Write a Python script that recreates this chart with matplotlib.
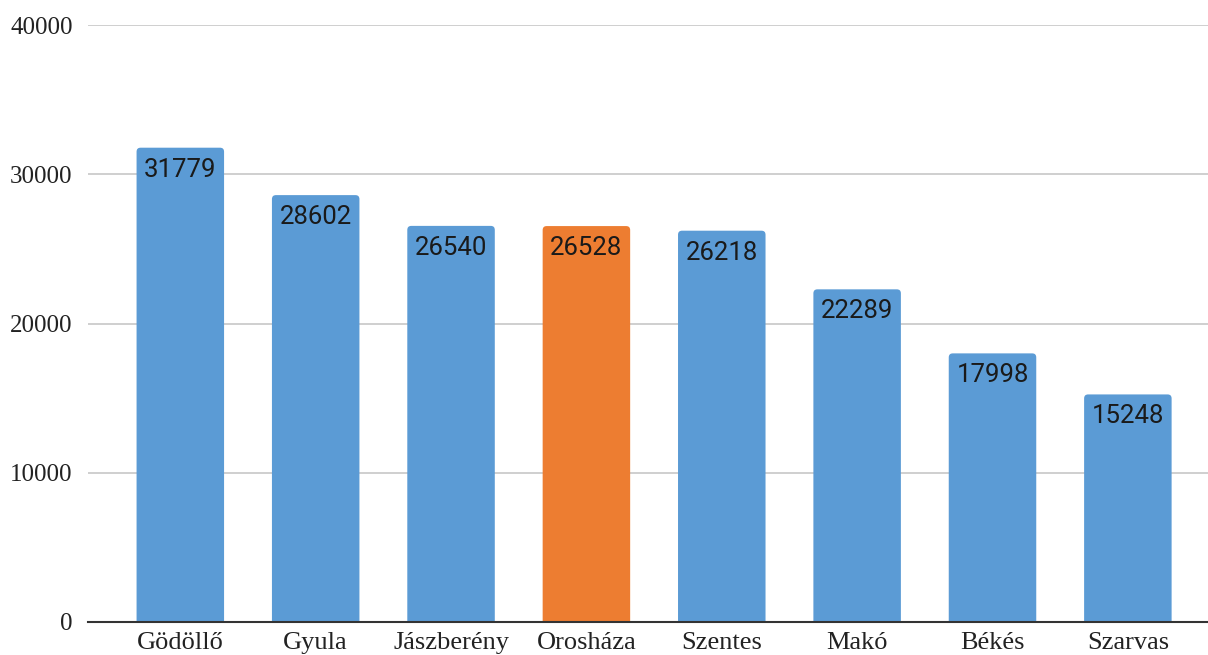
import matplotlib.pyplot as plt
from matplotlib.patches import FancyBboxPatch

# Data
cities = ['Gödöllő', 'Gyula', 'Jászberény', 'Orosháza', 'Szentes', 'Makó', 'Békés', 'Szarvas']
values = [31779, 28602, 26540, 26528, 26218, 22289, 17998, 15248]
highlight = 'Orosháza'
yticks = [0, 10000, 20000, 30000, 40000]

blue = '#5B9BD5'
orange = '#ED7D31'

fig = plt.figure(figsize=(12.08, 6.55), dpi=100)
ax = fig.add_axes([88 / 1208, 1 - 622 / 655, 1 - 88 / 1208, (622 - 25) / 655])

ax.set_xlim(-0.682, 7.592)
ax.set_ylim(0, 40000)

# px per data unit, used to get round corners of the same size in x and y
px_x = 1120 / (ax.get_xlim()[1] - ax.get_xlim()[0])
px_y = 597 / 40000
aspect = px_x / px_y
r = 4 / px_x
width = 87.5 / px_x

for i, (city, v) in enumerate(zip(cities, values)):
    color = orange if city == highlight else blue
    box = FancyBboxPatch((i - width / 2, -600), width, v + 600,
                         boxstyle=f'round,pad=0,rounding_size={r}',
                         mutation_aspect=aspect, facecolor=color,
                         edgecolor='none', zorder=3)
    ax.add_patch(box)
    ax.text(i, v - 22 / px_y, str(v), ha='center', va='center',
            fontsize=18.5, family='Roboto', fontweight='normal',
            color='#1a1a1a', zorder=4)

ax.set_xticks(range(len(cities)))
ax.set_xticklabels(cities, family='Liberation Serif', fontsize=19, color='#222222')
ax.set_yticks(yticks)
ax.set_yticklabels([str(t) for t in yticks], family='Liberation Serif', fontsize=18, color='#222222')
ax.tick_params(axis='both', length=0)
ax.tick_params(axis='y', pad=11)
ax.tick_params(axis='x', pad=7)

ax.grid(axis='y', color='#cccccc', linewidth=1.3, zorder=0)
ax.set_axisbelow(True)
for s in ['top', 'right', 'left']:
    ax.spines[s].set_visible(False)
ax.spines['bottom'].set_color('#333333')
ax.spines['bottom'].set_linewidth(1.5)
ax.spines['bottom'].set_zorder(5)

fig.savefig('out.png', dpi=100)
